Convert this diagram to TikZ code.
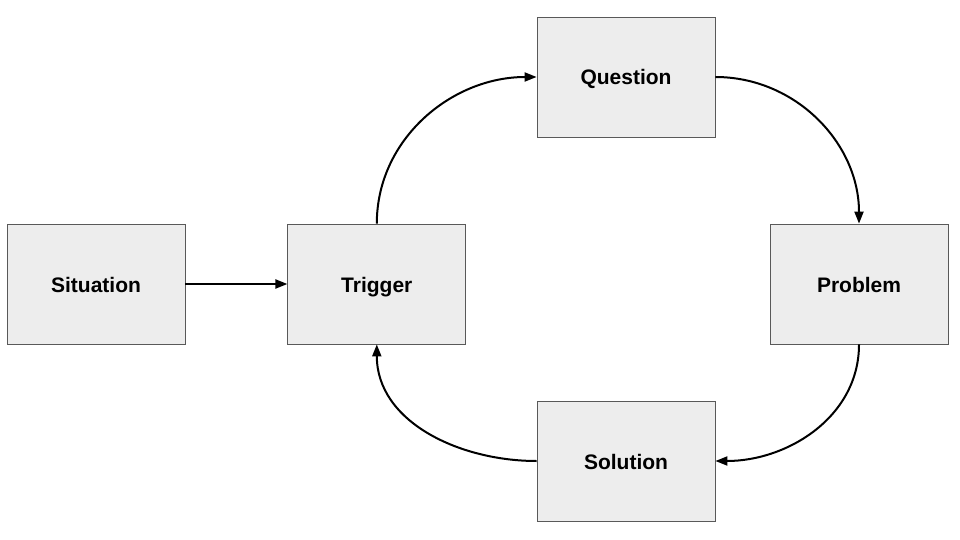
\documentclass[tikz,border=0pt]{standalone}
\usepackage{fontspec}
\setmainfont{Liberation Sans}
\usetikzlibrary{arrows.meta, positioning}
\tikzset{
node distance=102pt,
>={Triangle[length=12pt,width=9pt]},
box/.style={%
    rectangle,
    minimum width=178pt,
    minimum height=120pt,
    fill=black!7,
    draw=black!65,
    line width=0.8pt,
    text=black,
    text height=16pt,
    text depth=0pt,
    font=\fontsize{21}{24}\selectfont\bfseries
},
link/.style={->, line width=2pt, black},
}

\begin{document}
\begin{tikzpicture}[x=1pt,y=-1pt]
	\useasboundingbox (0,0) rectangle (960,540);
	\node[box] (situation) at (96,284) {Situation};
	\node[box, right=of situation] (trigger) {Trigger};
	\node[box] (question) at (626,77) {Question};
	\node[box] (problem) at (859,284) {Problem};
	\node[box] (solution) at (626,461) {Solution};

	\draw[link] (situation) -- (trigger);
	\draw[link] (trigger.north) to[out=90, in=180] (question.west);
	\draw[link] (question.east) to[out=0, in=90] (problem.north);
	\draw[link] (problem.south) to[out=-90, in=0] (solution.east);
	\draw[link] (solution.west) to[out=180, in=-90] (trigger.south);
\end{tikzpicture}
\end{document}
